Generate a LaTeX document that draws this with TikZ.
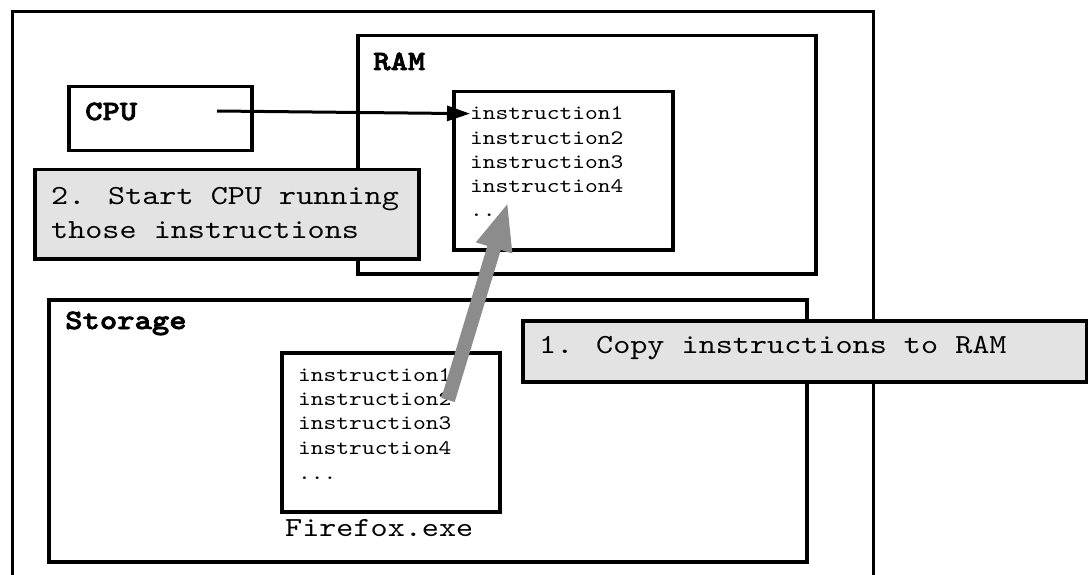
\documentclass[tikz,border=0pt]{standalone}
\usepackage{fontspec}
\newfontfamily\codefont{lmmono10-regular.otf}[FakeStretch=1.18, BoldFont=lmmonolt10-bold.otf, BoldFeatures={FakeBold=2.5}]
\usetikzlibrary{arrows.meta}
\definecolor{notegray}{HTML}{E3E3E3}
\definecolor{copygray}{HTML}{8C8C8C}

\begin{document}
\begin{tikzpicture}[x=1pt, y=-1pt,
    box/.style={draw, line width=3.5pt, inner sep=0pt, anchor=north west},
    note/.style={box, fill=notegray},
    heading/.style={anchor=base west, inner sep=0pt, font=\codefont\bfseries\fontsize{28}{33}\selectfont},
    code/.style={anchor=base west, inner sep=0pt, font=\codefont\fontsize{20.6}{24}\selectfont},
    say/.style={anchor=base west, inner sep=0pt, font=\codefont\fontsize{27.6}{33}\selectfont}]
    \useasboundingbox (0,0) rectangle (1088,575);
    % machine frame, runs off the bottom edge
    \draw[line width=3pt] (12,12) rectangle (873,590);

    % RAM and the copied program
    \node[box, minimum width=458pt, minimum height=238pt] (ram) at (356,34) {};
    \node[heading] (ramlbl) at (373,70) {RAM};
    \node[box, minimum width=219pt, minimum height=158pt] (raminstr) at (452,90) {};
    \node[code] (ri1) at (470,120) {instruction1};
    \node[code] (ri2) at (470,144.3) {instruction2};
    \node[code] (ri3) at (470,168.6) {instruction3};
    \node[code] (ri4) at (470,193) {instruction4};
    \node[code] (ri5) at (470,217) {...};

    % CPU
    \node[box, minimum width=183pt, minimum height=64pt] (cpu) at (67,85) {};
    \node[heading] (cpulbl) at (85,120) {CPU};
    \coordinate (cpuout) at (217,111);

    % Storage and the program file
    \node[box, minimum width=758pt, minimum height=262pt] (store) at (47,298) {};
    \node[heading] (storelbl) at (65,329) {Storage};
    \node[box, minimum width=218pt, minimum height=159pt] (ffx) at (280,351) {};
    \node[code] (fi1) at (298,381) {instruction1};
    \node[code] (fi2) at (298,405.3) {instruction2};
    \node[code] (fi3) at (298,429.6) {instruction3};
    \node[code] (fi4) at (298,454) {instruction4};
    \node[code] (fi5) at (298,479) {...};
    \node[say] (ffxname) at (285,536) {Firefox.exe};

    % step notes
    \node[note, minimum width=384pt, minimum height=89pt] (step2) at (33,168) {};
    \node[say] (step2a) at (51,205) {2. Start CPU running};
    \node[say] (step2b) at (51,238) {those instructions};
    \node[note, minimum width=564pt, minimum height=61pt] (step1) at (521,319) {};
    \node[say] (step1a) at (539,353) {1. Copy instructions to RAM};

    % arrows
    \draw[-{Triangle[length=23pt,width=15pt]}, line width=3pt] (cpuout) -- (ri1.west);
    \coordinate (copyfrom) at (448,400);
    \coordinate (copyto) at (508,202);
    \draw[-{Triangle[length=48pt,width=34pt]}, line width=14pt, copygray] (copyfrom) -- (copyto);
\end{tikzpicture}
\end{document}
